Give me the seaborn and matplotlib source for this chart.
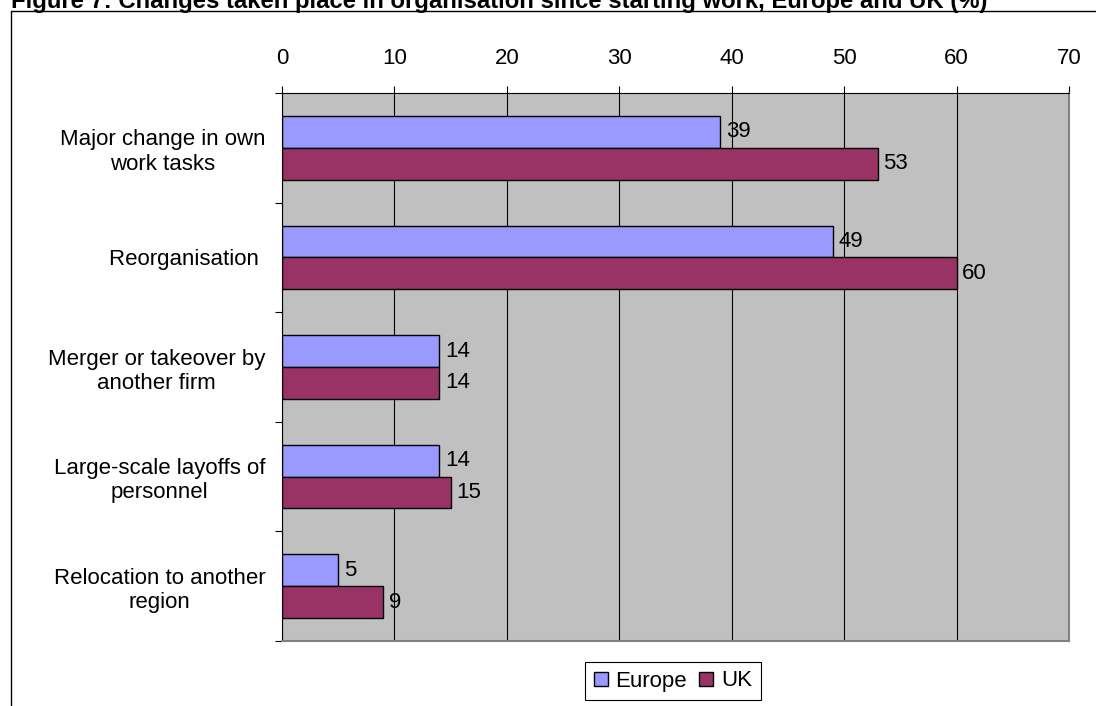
import pandas as pd
import matplotlib.pyplot as plt
import seaborn as sns
from matplotlib.lines import Line2D
from matplotlib.patches import Patch
from matplotlib.ticker import FixedLocator

# chart data
categories = ['Major change in own\nwork tasks', 'Reorganisation ',
              'Merger or takeover by\nanother firm', 'Large-scale layoffs of\npersonnel',
              'Relocation to another\nregion']
europe = [39, 49, 14, 14, 5]
uk = [53, 60, 14, 15, 9]
series = ['Europe', 'UK']
colours = ['#9999FF', '#993366']
x_ticks = [0, 10, 20, 30, 40, 50, 60, 70]
title = 'Figure 7: Changes taken place in organisation since starting work, Europe and UK (%)'

df = pd.DataFrame({'category': categories * 2,
                   'value': europe + uk,
                   'region': [series[0]] * len(europe) + [series[1]] * len(uk)})

sns.set_style('white')
plt.rcParams['font.family'] = ['Liberation Sans', 'DejaVu Sans']
plt.rcParams['text.color'] = 'black'
plt.rcParams['xtick.labelcolor'] = 'black'
plt.rcParams['ytick.labelcolor'] = 'black'

W, H = 1096, 706
fig = plt.figure(figsize=(W / 100, H / 100), dpi=100)
ax = fig.add_axes([282 / W, 1 - 641 / H, (1069 - 282) / W, (641 - 93) / H])

sns.barplot(data=df, x='value', y='category', hue='region', orient='h',
            palette=colours, saturation=1, width=0.58, edgecolor='black',
            linewidth=1, ax=ax, legend=False)

ax.set_facecolor('#C0C0C0')
ax.set_xlim(0, 70)
ax.set_ylim(4.5, -0.5)
ax.set_xlabel('')
ax.set_ylabel('')

# x axis on top with black gridlines
ax.xaxis.tick_top()
ax.set_xticks(x_ticks)
ax.tick_params(axis='x', top=True, bottom=False, length=5, width=0.8, pad=12,
               labelsize=16, color='black', labelcolor='black')
ax.grid(axis='x', color='black', linewidth=0.8)
ax.set_axisbelow(True)

# category labels, ticks between the groups
ax.tick_params(axis='y', which='major', left=False, length=0, pad=12, labelsize=16,
               labelcolor='black')
ax.yaxis.set_minor_locator(FixedLocator([i - 0.5 for i in range(len(categories) + 1)]))
ax.tick_params(axis='y', which='minor', left=True, length=5, width=0.8, color='black')
for lab in ax.get_yticklabels():
    lab.set_multialignment('center')

for side in ['left', 'top']:
    ax.spines[side].set_color('black')
    ax.spines[side].set_linewidth(0.8)
for side in ['right', 'bottom']:
    ax.spines[side].set_color('#808080')
    ax.spines[side].set_linewidth(1.5)

for c in ax.containers:
    ax.bar_label(c, padding=4, fontsize=16, color='black')

handles = [Patch(facecolor=col, edgecolor='black', linewidth=1) for col in colours]
leg = fig.legend(handles, series, loc='center', bbox_to_anchor=(673 / W, 1 - 681 / H),
                 ncol=2, frameon=True, fancybox=False, edgecolor='black', framealpha=1,
                 fontsize=16, handlelength=0.6, handleheight=0.6, handletextpad=0.36,
                 columnspacing=0.55, borderpad=0.4)
leg.get_frame().set_linewidth(0.8)

# outer chart frame, runs off the right and bottom
fig.add_artist(Line2D([11 / W, 11 / W, 1.01], [-0.01, 1 - 11 / H, 1 - 11 / H],
                      transform=fig.transFigure, color='black', linewidth=1))

# title sits partly above the top edge, as in the original
fig.text(11 / W, 1 - 8 / H, title, fontsize=17.2, fontweight='bold', va='baseline', ha='left')

fig.savefig('out.png', dpi=100)
